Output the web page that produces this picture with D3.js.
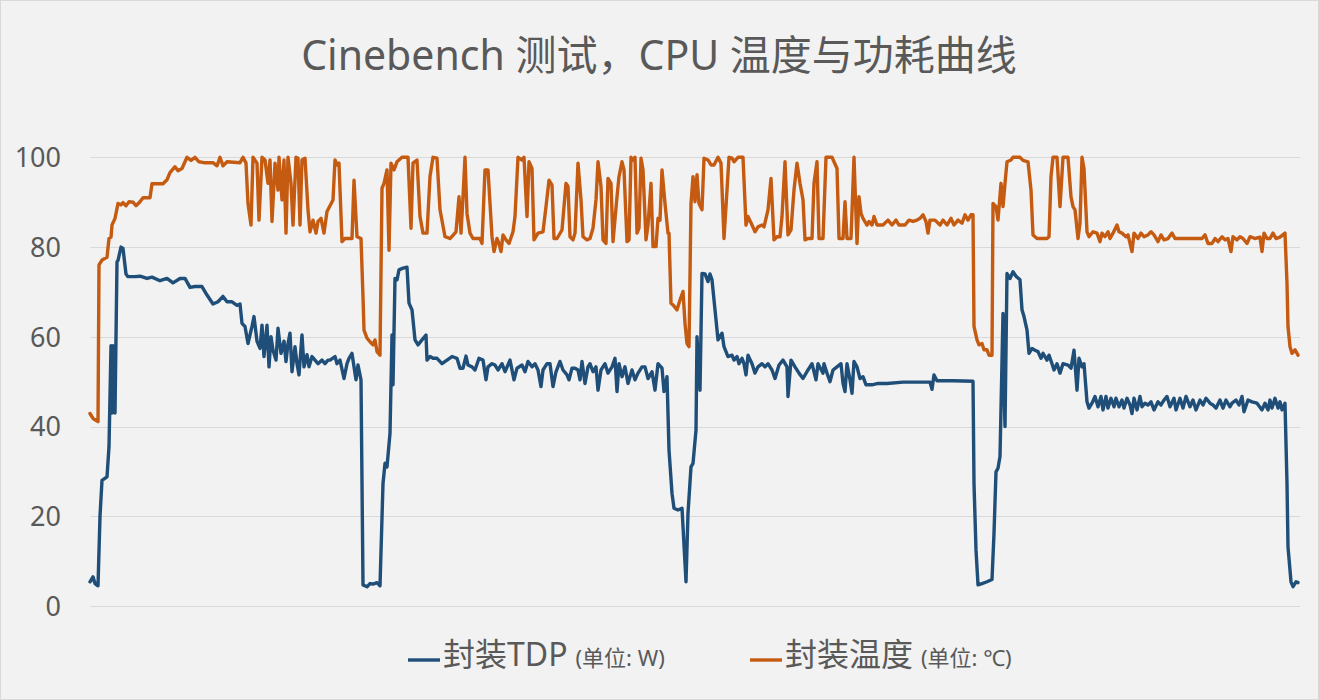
<!DOCTYPE html>
<html>
<head>
<meta charset="utf-8">
<script src="https://cdn.jsdelivr.net/npm/d3@7"></script>
<style>
html,body{margin:0;padding:0;background:#f2f2f2;}
svg{display:block;}
</style>
</head>
<body>
<svg id="chart" width="1319" height="700"></svg>
<script>
// ---- data ----
const chartTitle = "Cinebench 测试，CPU 温度与功耗曲线";
const yTicks = [0, 20, 40, 60, 80, 100];
const seriesNames = ["封装TDP", "封装温度"];
const seriesUnits = ["(单位: W)", "(单位: ℃)"];

// sample time (arbitrary units) and package power (W)
const tdpTime = [0,3,5,8,10,12,17,19,21,22,23,25,27,28,31,33,36,38,45,50,57,62,70,77,83,90,95,100,105,112,117,123,128,133,137,142,147,150,152,155,158,162,164,167,170,172,174,177,179,181,183,186,188,191,194,196,198,200,202,205,207,209,212,214,217,219,222,225,228,232,235,238,240,245,247,250,254,257,259,262,264,266,268,271,273,277,280,283,287,290,293,295,297,300,302,303,305,307,309,313,317,319,322,325,328,332,336,337,340,343,347,352,357,362,367,370,373,376,378,382,385,389,393,396,398,402,405,408,412,415,420,424,427,432,435,438,442,445,448,451,453,457,460,463,466,470,473,477,479,482,485,488,490,492,495,498,500,503,506,508,511,515,518,522,525,527,529,532,535,538,542,545,548,552,555,558,562,565,568,572,574,577,579,582,584,588,592,596,598,601,603,606,607,610,612,615,618,620,622,625,628,632,634,638,642,644,647,649,652,654,656,658,662,665,668,672,675,678,682,685,689,693,697,698,701,705,709,713,718,722,726,728,733,734,737,740,743,747,751,753,755,757,760,762,764,767,770,773,776,782,788,797,813,830,840,842,844,847,863,883,884,886,888,892,897,902,904,906,908,910,913,914,915,917,920,923,926,930,932,934,937,939,942,945,948,951,953,957,959,962,964,967,970,973,978,981,984,987,989,992,994,997,999,1002,1005,1008,1011,1013,1016,1018,1021,1024,1026,1029,1032,1034,1037,1040,1042,1044,1047,1050,1052,1055,1058,1061,1064,1068,1071,1074,1077,1080,1084,1086,1090,1093,1096,1100,1103,1106,1110,1113,1116,1120,1123,1126,1130,1133,1136,1140,1142,1146,1149,1152,1154,1158,1162,1167,1172,1175,1178,1180,1182,1185,1188,1190,1192,1195,1197,1198,1201,1203,1206,1208];
const tdpValues = [5.4,6.5,5,4.5,20,28,28.8,35.5,58,43,58,43,76.7,77,80,79.7,74,73.4,73.4,73.5,73,73.3,72.5,73,72,73,73,71,71.2,71.2,69.3,67.3,67.8,69,67.8,67.8,67,67.3,63,62.3,58.5,62.3,64.5,59,57.4,62.6,55.6,62.6,53.3,60,57,54.8,61.9,56.3,59,54.5,58.5,60.8,52.2,57.8,54,51.5,60.4,53.3,56,53.3,55.6,54.8,54,54.8,54,54.8,54.8,55.6,54,54.8,50.7,54,55.2,56.3,53.3,50.4,53.7,50.4,4.7,4.3,5,4.9,5.2,4.5,27.3,31.8,31,38.5,60.4,49.3,73,72.7,74.9,75.3,75.5,67.5,66,59.3,58.2,59.3,60.4,54.8,55.6,55.2,55.2,54,54.8,55.6,55.2,53,53,55.7,53.7,53.3,52.6,55.2,54.8,50.4,53.3,54,53.7,52.6,54,52.2,54.8,50.4,53,53.7,52.2,54.5,53.3,54,52.6,48.9,52.6,54,54,48.9,52.2,54.5,52.6,51.5,50.4,53,53,52.6,50.4,54.5,49.6,53.3,54,52.2,53.3,48.1,52.6,54,51.9,53.3,55.2,47.8,54,51.1,53.3,49.6,52.6,50.4,51.9,53.3,53.3,50.7,52.2,48.1,54,53,47.8,51.1,34.8,25.1,21.8,21.4,21.8,5.4,20.7,31,31.8,39.2,60,48.1,74.1,74,72.3,74,72.7,66,59.3,60.8,57.8,55.6,55.9,54.8,55.6,54,55.2,54,51.5,55.9,54,51.9,53.3,54,53.3,54,52.6,50.7,53.7,54.8,53.3,46.7,54.8,53.3,51.9,50.7,52.6,54,50.4,54,51.9,54,51.9,50,52.6,53.3,54,49.6,47.8,54,50.4,47.4,54.5,53.3,50.7,51.1,49.3,49.3,49.6,49.6,49.9,49.9,49.9,48.3,51.5,50.2,50.2,50.1,27.3,12.5,4.7,5,5.4,5.9,16.2,29.9,30.7,33.3,65.2,49.6,40,74.1,73,74.5,73.5,72.7,66,64.5,61.5,56.3,57.4,57,56.7,55.2,56.3,54.8,55.9,54,52.6,54,51.9,54,53.7,53,57,48.1,55.2,53.3,54,45.5,44.1,45.2,46.7,44.4,46.7,43.7,46.7,44.1,46.3,44.4,46.3,44.4,45.9,44.1,46.3,44.8,42.9,46.3,43.7,46.7,44.4,45.2,44.8,45.5,43.7,45.5,44.8,45.9,46.7,44.4,46.3,43.7,46.3,44.1,46.7,44.4,45.9,43.7,45.9,44.8,46.3,45.2,44.8,44.1,45.9,44.1,45.9,44.4,45.2,45.9,44.8,46.7,43.3,45.9,45.5,45.2,43.7,45.2,43.7,45.9,44.1,46.3,44.1,45.5,43.7,45.2,27.3,13.2,5.4,4.3,5.4,5.2];

// sample time and package temperature (°C)
const tempTime = [0,3,8,9,12,17,19,21,22,25,28,31,33,36,39,43,46,50,53,60,62,73,77,80,85,88,92,97,101,105,109,114,123,127,130,133,137,150,153,156,158,161,163,167,169,172,175,178,180,182,185,188,189,192,194,196,198,201,203,206,208,210,212,215,218,220,223,226,228,231,234,237,240,243,245,247,249,252,255,262,264,267,271,273,274,277,280,283,285,287,290,292,294,297,299,301,304,307,312,318,321,323,327,330,333,337,340,343,347,350,355,360,366,369,371,373,375,377,380,383,390,392,395,398,402,404,407,409,411,413,416,419,423,425,428,432,434,437,439,442,444,448,453,456,459,462,464,467,472,476,478,480,483,485,488,491,493,497,500,503,506,508,511,513,516,518,521,523,527,529,532,534,537,539,541,543,545,547,549,551,553,556,558,561,563,566,568,570,572,575,578,579,581,583,587,590,593,595,597,599,601,603,605,607,609,612,614,618,621,624,628,631,634,637,639,642,644,648,653,656,658,662,665,668,672,674,678,681,684,687,690,692,695,698,701,704,707,710,713,715,718,722,724,727,729,733,736,742,747,749,753,755,757,761,764,767,769,771,773,777,779,782,784,787,793,798,802,806,809,815,819,823,827,830,833,836,838,840,845,850,853,857,861,864,868,872,875,878,881,883,884,887,889,892,894,897,899,902,903,906,908,911,913,915,917,921,923,930,933,938,941,943,947,957,959,961,963,967,970,973,978,981,983,985,988,990,992,994,997,999,1003,1007,1010,1012,1015,1018,1020,1023,1027,1029,1032,1036,1038,1042,1044,1048,1051,1054,1058,1061,1064,1068,1071,1074,1078,1082,1085,1112,1115,1118,1122,1125,1128,1132,1135,1138,1141,1143,1147,1150,1153,1157,1160,1165,1170,1172,1174,1177,1180,1183,1186,1190,1195,1197,1198,1200,1202,1205,1208];
const tempValues = [42.9,41.8,41.1,76,77.1,77.7,81.9,82.2,84.9,86.4,89.7,89.4,89.9,89.2,90.1,90,89.2,90.1,91,91,94.1,94.1,95,96.6,97.9,97,97.5,100,99.3,100,99,98.8,98.8,98.1,100,98.1,99,98.8,100,98.7,89.7,84.9,100,98.7,86,100,99.4,94.2,99.4,85.7,98.7,92.7,100,90.5,99.4,83.1,100,94.2,84.9,100,99.8,84.9,99.4,99.8,88.3,83.4,86,83.1,85.7,86.4,83.1,87.9,89.2,90.5,99.4,98.3,98.7,81.2,81.9,81.9,94.9,82.3,81.9,68.9,61.5,59.7,58.9,58.2,59.3,56.7,55.9,93.1,94.2,97.2,79.3,98.7,97.2,99,100,100,84.2,98.7,99.4,86.8,83.1,83.1,95.7,100,99.8,88.3,82.3,81.9,83.4,91.2,83.1,91.2,100,87.5,83.1,81.9,81.9,80.8,97.2,97.2,82.3,79,81.9,80.8,79,82.7,81.6,80.8,83.4,86.8,100,99.4,100,86.8,99,97.5,81.6,83.1,83.4,89,94.9,93.8,81.9,81.9,83.8,94.2,93.5,82.3,81.6,83.1,98.7,90.5,82.3,81.6,81.9,84.2,90.5,99,93.5,81.6,80.8,95.3,94.2,81.2,91.2,95.7,99,97.2,81.2,81.6,100,99.4,100,83.1,84.2,99.8,97.2,81.6,84.9,94.2,80.1,80.1,86.4,86,97.2,89.7,83.1,83.1,67.5,67.1,66,68.2,70.1,63,58.5,57.8,89.7,95.7,90.1,96.1,89.7,88.3,99.8,99.4,98.3,98.3,100,98.7,81.9,92.7,100,99.8,99,100,100,84.9,86.8,84.9,83.4,84.5,84.9,84.5,88.3,95.3,81.6,82.3,82.3,86.8,99,82.7,83.8,92.7,98.7,94.2,90.5,81.6,81.9,81.9,94.2,99,81.9,81.9,100,100,97.5,81.9,81.9,90.1,81.9,81.9,100,80.8,91.2,87.5,86.4,84.9,85.7,84.9,86.8,84.9,84.9,86,84.9,86,84.9,84.9,86,85.7,86,86.4,87.2,85.7,83.1,86,86,84.9,86,84.9,86.4,84.9,86,85.3,87.2,86,87.2,87.2,62.3,59.3,58.2,58.5,57.1,57.1,55.9,55.9,89.7,89,86,94.2,89,94.2,99,99.4,100,100,99.3,99,92.7,82.7,81.9,81.9,82.3,95.7,100,100,89,100,100,91.2,89,88.3,81.9,85.3,100,97.5,83.4,82.3,83.4,83.1,81.2,83.1,82.3,83.4,81.9,83.1,84.9,83.4,83.1,82.3,82.7,79,83.1,81.9,83.1,82.3,82.7,83.4,82.7,81.2,82.7,81.6,81.9,83.1,81.9,81.9,82.7,80.8,80.8,81.9,81.2,82.3,81.6,81.9,79,82.3,81.6,82.3,81.9,80.8,82.3,81.9,82.2,79,83.1,81.9,81.9,83.1,81.9,82.2,83.1,71.9,62.3,57.8,56.3,57.1,55.9];

const seriesColors = ["#1f4e79", "#c55a11"];

// ---- drawing ----
const W = 1319, H = 700;
const svg = d3.select("#chart");
const fontFam = "'Noto Sans','Noto Sans CJK SC',sans-serif";

svg.append("rect").attr("x",0.5).attr("y",0.5).attr("width",W-1).attr("height",H-1)
  .attr("fill","#f2f2f2").attr("stroke","#d9d9d9").attr("stroke-width",1);

const x = d3.scaleLinear().domain([0, 1208]).range([90, 1298]);
const y = d3.scaleLinear().domain([0, 100]).range([606, 157.3]);

// grid
svg.append("g").selectAll("line").data(yTicks).join("line")
  .attr("x1", 90).attr("x2", 1300)
  .attr("y1", d => Math.round(y(d)) + 0.5).attr("y2", d => Math.round(y(d)) + 0.5)
  .attr("stroke", "#d9d9d9").attr("stroke-width", 1);

// y axis labels via d3 axis
const yAxis = d3.axisLeft(y).tickValues(yTicks).tickSize(0).tickPadding(0);
const ga = svg.append("g").attr("transform","translate(61,0)").call(yAxis);
ga.select(".domain").remove();
ga.selectAll("text").attr("font-family", fontFam).attr("font-size", 27)
  .attr("fill", "#595959").attr("dy", "0.35em");

const line = d3.line().x(d => x(d[0])).y(d => y(d[1]));
const tdpData = tdpTime.map((t,i) => [t, tdpValues[i]]);
const tempData = tempTime.map((t,i) => [t, tempValues[i]]);

svg.append("path").datum(tempData).attr("d", line)
  .attr("fill","none").attr("stroke", seriesColors[1]).attr("stroke-width", 3.4)
  .attr("stroke-linejoin","round").attr("stroke-linecap","round");
svg.append("path").datum(tdpData).attr("d", line)
  .attr("fill","none").attr("stroke", seriesColors[0]).attr("stroke-width", 3.4)
  .attr("stroke-linejoin","round").attr("stroke-linecap","round");

// title
svg.append("text").attr("x", 659).attr("y", 70).attr("text-anchor","middle")
  .attr("font-family", fontFam).attr("font-size", 41).attr("fill","#595959")
  .text(chartTitle);

// legend
const legendX = [408, 750];
seriesNames.forEach((name, i) => {
  const g = svg.append("g").attr("transform", `translate(${legendX[i]},660)`);
  g.append("line").attr("x1",0).attr("x2",32).attr("y1",0).attr("y2",0)
    .attr("stroke", seriesColors[i]).attr("stroke-width", 3.4);
  const t = g.append("text").attr("x", 35).attr("y", 0).attr("dy","0.35em")
    .attr("font-family", fontFam).attr("fill","#595959");
  t.append("tspan").attr("font-size", 32).text(name);
  t.append("tspan").attr("font-size", 22).attr("dx", 8).text(seriesUnits[i]);
});
</script>
</body>
</html>
